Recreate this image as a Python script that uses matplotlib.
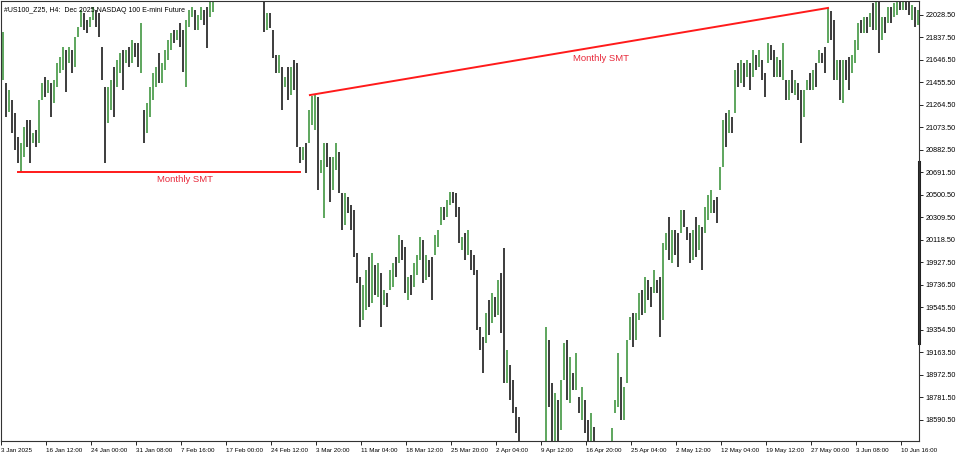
import numpy as np
import matplotlib
matplotlib.use("Agg")
import matplotlib.pyplot as plt

# H4 bars of #US100_Z25 (prices)
highs = [
    21884, 21450, 21391, 21306, 21195, 20991, 20940, 21076, 21136, 21136,
    21025, 21051, 21306, 21450, 21501, 21476, 21450, 21476, 21620, 21671,
    21756, 21731, 21756, 21731, 21841, 21926, 22071, 22045, 21986, 22011,
    22096, 22071, 22045, 21756, 21416, 21416, 21476, 21586, 21646, 21705,
    21731, 21731, 21756, 21816, 21790, 21790, 21960, 21221, 21280, 21416,
    21535, 21586, 21705, 21620, 21731, 21816, 21875, 21901, 21901, 21960,
    21901, 21986, 22071, 22096, 22071, 22028, 22096, 22071, 22096, 22207,
    22241, 22290, 22320, 22350, 22330, 22380, 22400, 22370, 22340, 22390,
    22410, 22380, 22330, 22350, 22310, 22320, 22270, 22139, 22045, 22045,
    21901, 21688, 21688, 21586, 21501, 21586, 21586, 21646, 21620, 20906,
    20906, 20940, 21221, 21340, 21348, 21332, 20796, 20940, 20940, 20821,
    20821, 20940, 20864, 20516, 20516, 20482, 20414, 20371, 20006, 19802,
    19734, 19861, 19972, 20006, 19904, 19921, 19836, 19691, 19666, 19861,
    19921, 19972, 20159, 20116, 20057, 19802, 19819, 19921, 19989, 20142,
    20116, 19989, 19946, 19972, 20159, 20201, 20397, 20397, 20456, 20524,
    20524, 20516, 20397, 20142, 20176, 20201, 20031, 19989, 19861, 19377,
    19292, 19496, 19606, 19666, 19632, 19776, 19836, 20048, 19181, 19054,
    18926, 18696, 18611, 18380, 18250, 18100, 17950, 17800, 17700, 18000,
    18300, 19377, 19266, 18900, 18815, 18756, 18926, 19241, 19266, 19122,
    18986, 19156, 18782, 18867, 18756, 18586, 18646, 18527, 18380, 18250,
    18350, 18300, 18400, 18518, 18756, 19156, 18952, 18867, 19266, 19462,
    19496, 19496, 19666, 19691, 19802, 19776, 19717, 19861, 19776, 19802,
    20091, 20176, 20312, 20201, 20201, 20176, 20371, 20371, 20227, 20176,
    20201, 20312, 20244, 20227, 20397, 20499, 20541, 20456, 20482, 20737,
    21136, 21196, 21221, 21162, 21561, 21620, 21646, 21620, 21646, 21620,
    21731, 21688, 21731, 21646, 21535, 21790, 21773, 21731, 21671, 21646,
    21790, 21476, 21476, 21561, 21476, 21450, 21391, 21391, 21476, 21535,
    21561, 21620, 21731, 21705, 21756, 22088, 22062, 21986, 21646, 21646,
    21646, 21646, 21671, 21688, 21816, 21960, 21986, 22011, 22011, 22045,
    22130, 22182, 22199, 22011, 22011, 22096, 22096, 22130, 22190, 22207,
    22199, 22190, 22182, 22114, 22096, 22071,
]
lows = [
    21476, 21162, 21204, 21026, 20881, 20770, 20694, 20821, 20906, 20770,
    20940, 20906, 20940, 21306, 21331, 21365, 21162, 21280, 21416, 21535,
    21561, 21374, 21620, 21535, 21586, 21841, 21926, 21901, 21875, 21926,
    21986, 21926, 21841, 21476, 20770, 21110, 21221, 21162, 21416, 21535,
    21391, 21620, 21586, 21620, 21671, 21586, 21535, 20940, 21026, 21162,
    21306, 21416, 21450, 21450, 21561, 21646, 21731, 21790, 21816, 21756,
    21544, 21416, 21926, 22011, 21901, 21901, 21986, 21944, 21748, 22011,
    22054, 22170, 22220, 22250, 22230, 22280, 22300, 22270, 22240, 22290,
    22310, 22260, 22230, 22250, 22210, 22200, 22170, 21884, 21901, 21918,
    21663, 21535, 21535, 21221, 21416, 21306, 21348, 21391, 20906, 20770,
    20796, 20686, 20940, 21094, 21051, 20541, 20686, 20303, 20737, 20439,
    20541, 20711, 20516, 20201, 20244, 20346, 20201, 19972, 19751, 19377,
    19436, 19521, 19547, 19581, 19649, 19632, 19377, 19564, 19547, 19691,
    19717, 19802, 19921, 19946, 19666, 19606, 19649, 19717, 19819, 19946,
    19751, 19776, 19802, 19606, 19989, 20057, 20244, 20286, 20312, 20414,
    20431, 20312, 20091, 20031, 19946, 19989, 19861, 19819, 19351, 19181,
    18986, 19241, 19309, 19411, 19462, 19479, 19326, 18900, 18900, 18756,
    18646, 18476, 18331, 18100, 17900, 17700, 17500, 17300, 17200, 17550,
    17800, 18100, 18696, 18150, 18250, 18300, 18501, 18926, 18756, 18731,
    18841, 18841, 18646, 18586, 18476, 18331, 18350, 18250, 18050, 17900,
    18000, 17950, 18100, 18250, 18646, 18697, 18586, 18586, 18900, 19266,
    19207, 19266, 19436, 19479, 19496, 19606, 19547, 19666, 19666, 19292,
    19436, 20031, 19946, 19921, 19989, 19887, 20176, 20227, 20116, 19921,
    19946, 19972, 20031, 19861, 20176, 20286, 20346, 20346, 20261, 20541,
    20737, 20906, 21026, 21026, 21196, 21416, 21450, 21416, 21501, 21391,
    21501, 21561, 21586, 21476, 21331, 21620, 21646, 21501, 21501, 21501,
    21476, 21306, 21306, 21365, 21348, 21306, 20940, 21162, 21391, 21391,
    21391, 21416, 21620, 21620, 21535, 21790, 21816, 21476, 21476, 21306,
    21280, 21476, 21391, 21535, 21620, 21731, 21875, 21875, 21875, 21926,
    21901, 21901, 21705, 21816, 21875, 21960, 21960, 22011, 22028, 22071,
    22071, 22071, 22028, 21986, 21926, 21944,
]
closes = [
    21816, 21204, 21348, 21068, 20923, 20796, 20881, 21051, 20966, 20796,
    21008, 20940, 21289, 21433, 21374, 21459, 21204, 21433, 21586, 21646,
    21731, 21408, 21731, 21578, 21816, 21918, 22054, 21918, 21901, 22003,
    22088, 21943, 21858, 21518, 20881, 21374, 21433, 21221, 21629, 21680,
    21433, 21714, 21646, 21790, 21714, 21629, 21918, 20966, 21238, 21391,
    21510, 21561, 21493, 21595, 21705, 21790, 21858, 21816, 21884, 21782,
    21578, 21943, 22054, 22080, 21935, 22011, 22080, 21969, 21782, 22139,
    22198, 22260, 22300, 22280, 22310, 22350, 22330, 22300, 22320, 22370,
    22340, 22290, 22300, 22270, 22280, 22230, 22190, 21918, 22020, 21935,
    21688, 21561, 21663, 21264, 21476, 21348, 21561, 21433, 20923, 20796,
    20881, 20728, 21196, 21264, 21323, 20584, 20771, 20915, 20796, 20482,
    20779, 20898, 20541, 20235, 20473, 20371, 20235, 20006, 19776, 19436,
    19691, 19819, 19606, 19963, 19691, 19878, 19419, 19666, 19572, 19836,
    19895, 19827, 20116, 19980, 19708, 19776, 19691, 19895, 19963, 20116,
    19793, 19963, 19844, 19649, 20133, 20184, 20380, 20312, 20439, 20507,
    20456, 20337, 20116, 20125, 19989, 20176, 19895, 19844, 19377, 19224,
    19028, 19470, 19351, 19640, 19504, 19751, 19368, 18994, 19156, 18799,
    18688, 18501, 18356, 18150, 17950, 17800, 17600, 17400, 17650, 17900,
    18200, 19309, 18756, 18416, 18756, 18416, 18884, 19207, 18841, 19079,
    18875, 19130, 18671, 18841, 18518, 18374, 18603, 18331, 18100, 18200,
    18050, 18250, 18350, 18501, 18739, 19122, 18629, 18824, 19241, 19436,
    19249, 19470, 19640, 19521, 19776, 19640, 19581, 19836, 19691, 19334,
    20065, 20150, 19989, 20176, 20031, 19929, 20354, 20252, 20142, 19963,
    20176, 20014, 20218, 19895, 20371, 20473, 20524, 20371, 20286, 20711,
    21110, 20949, 21196, 21051, 21535, 21442, 21620, 21442, 21629, 21425,
    21705, 21671, 21714, 21501, 21365, 21765, 21680, 21535, 21646, 21527,
    21765, 21340, 21450, 21391, 21459, 21332, 20983, 21365, 21459, 21425,
    21544, 21442, 21714, 21646, 21561, 22054, 21901, 21510, 21620, 21348,
    21603, 21510, 21433, 21663, 21790, 21935, 21901, 21994, 21901, 22028,
    21935, 22139, 21731, 21986, 21901, 22080, 21986, 22114, 22156, 22088,
    22173, 22096, 22054, 22096, 21943, 22028,
]
first_open = 21500

# Monthly SMT lines: (bar index, price)
smt_low_bars = [5, 99]
smt_low_prices = [20694, 20694]
smt_high_bars = [102.3, 275]
smt_high_prices = [21348, 22088]
smt_label_bars = [60.7, 199.3]

time_labels = ["3 Jan 2025", "16 Jan 12:00", "24 Jan 00:00", "31 Jan 08:00",
               "7 Feb 16:00", "17 Feb 00:00", "24 Feb 12:00", "3 Mar 20:00",
               "11 Mar 04:00", "18 Mar 12:00", "25 Mar 20:00", "2 Apr 04:00",
               "9 Apr 12:00", "16 Apr 20:00", "25 Apr 04:00", "2 May 12:00",
               "12 May 04:00", "19 May 12:00", "27 May 00:00", "3 Jun 08:00",
               "10 Jun 16:00"]
price_ticks = [18590.5 + 191 * k for k in range(19)]
scale_marker = [19244, 20781]

n = len(closes)
x = np.arange(n)
opens = np.array([first_open] + closes[:-1])
closes_a = np.array(closes)
up = closes_a >= opens
colors = np.where(up, "#3a923a", "#111111")

font = "Liberation Sans"
fig = plt.figure(figsize=(9.6, 4.57), dpi=100)
ax = fig.add_axes([1 / 960, 16 / 457, 918 / 960, 440 / 457])

ax.vlines(x, lows, highs, colors=colors, linewidth=1.15)

red = "#ff1a1a"
ax.plot(smt_low_bars, smt_low_prices, color=red, linewidth=1.4)
ax.plot(smt_high_bars, smt_high_prices, color=red, linewidth=1.4)
ax.annotate("Monthly SMT", (smt_label_bars[0], smt_low_prices[0]),
            xytext=(0, -2), textcoords="offset points", ha="center", va="top",
            color="#e8283a", fontsize=6.8, family=font)
ax.annotate("Monthly SMT", (smt_label_bars[1], np.interp(smt_label_bars[1], smt_high_bars, smt_high_prices)),
            xytext=(0, -5.5), textcoords="offset points", ha="center", va="top",
            color="#e8283a", fontsize=6.8, family=font)

ax.set_xlim(-2 / 3, n - 2 / 3)
ax.set_ylim(18410, 22147)

# time axis
ax.set_xticks(np.arange(len(time_labels)) * 15 - 2 / 3)
ax.set_xticklabels(time_labels, fontsize=4.5, family=font, ha="left")
ax.tick_params(axis="x", length=3, width=0.6, pad=1.8, direction="out")

# price axis on the right
ax.yaxis.tick_right()
ax.set_yticks(price_ticks)
ax.set_yticklabels([f"{p:.2f}" for p in price_ticks], fontsize=5.2, family=font)
ax.tick_params(axis="y", length=3, width=0.6, pad=1.5, direction="out")

for s in ax.spines.values():
    s.set_linewidth(0.8)
    s.set_color("#333333")

ax.plot([1, 1], scale_marker, color="#222222", linewidth=2.2,
        transform=ax.get_yaxis_transform(), clip_on=False)

ax.text(0.003, 0.986, "#US100_Z25, H4:  Dec 2025 NASDAQ 100 E-mini Future",
        transform=ax.transAxes, fontsize=5.0, family=font, ha="left", va="top")

fig.savefig("out.png", dpi=100)
